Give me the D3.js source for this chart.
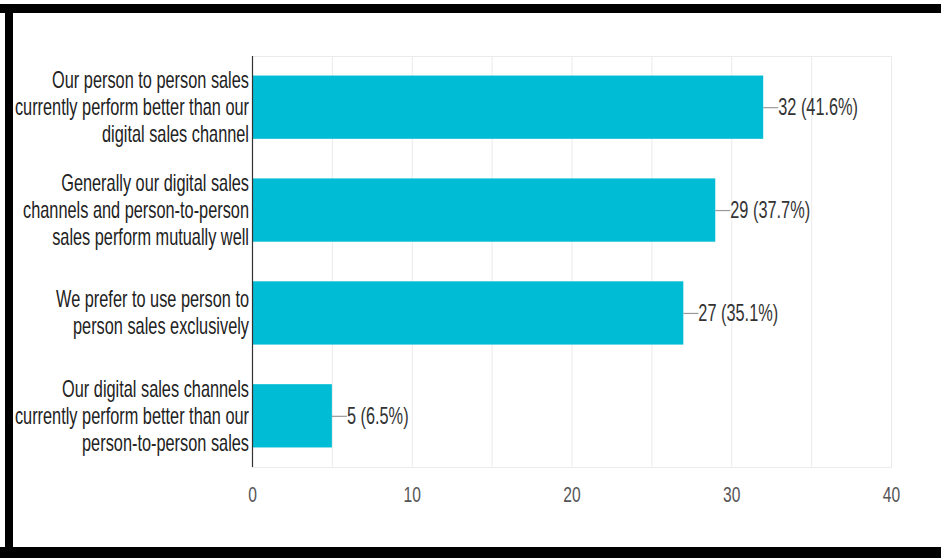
<!DOCTYPE html>
<html>
<head>
<meta charset="utf-8">
<script src="https://cdn.jsdelivr.net/npm/d3@7"></script>
<style>
  html, body { margin: 0; padding: 0; background: #fff; }
  svg { display: block; }
  text { font-family: Arial, "Liberation Sans", sans-serif; }
</style>
</head>
<body>
<svg id="chart" width="941" height="558"></svg>
<script>
// ---- data ----
const categories = [
  ["Our person to person sales", "currently perform better than our", "digital sales channel"],
  ["Generally our digital sales", "channels and person-to-person", "sales perform mutually well"],
  ["We prefer to use person to", "person sales exclusively"],
  ["Our digital sales channels", "currently perform better than our", "person-to-person sales"]
];
const counts = [32, 29, 27, 5];
const percents = ["41.6%", "37.7%", "35.1%", "6.5%"];
const tickLabels = [0, 10, 20, 30, 40];
const gridValues = [0, 5, 10, 15, 20, 25, 30, 35, 40];

// ---- layout ----
const W = 941, H = 558;
const plot = { left: 252, right: 891, top: 56, bottom: 467 };
const sx = 0.71;     // horizontal squeeze of the text
const fs = 23;

const svg = d3.select("#chart");

// frame
svg.append("rect").attr("x", 0).attr("y", 0).attr("width", W).attr("height", H).attr("fill", "#fff");
svg.append("rect").attr("x", 0).attr("y", 4).attr("width", W).attr("height", 9).attr("fill", "#000");
svg.append("rect").attr("x", 5).attr("y", 4).attr("width", 8).attr("height", H).attr("fill", "#000");
svg.append("rect").attr("x", 0).attr("y", 547).attr("width", W).attr("height", H - 547).attr("fill", "#000");

const x = d3.scaleLinear().domain([0, 40]).range([plot.left, plot.right]);
const y = d3.scaleBand().domain(d3.range(categories.length))
  .range([plot.top, plot.bottom]).paddingInner(0.385).paddingOuter(0.19);

// gridlines
const grid = svg.append("g").attr("transform", `translate(0,${plot.bottom})`)
  .call(d3.axisBottom(x).tickValues(gridValues).tickSize(-(plot.bottom - plot.top)).tickFormat(""));
grid.select(".domain").remove();
grid.selectAll("line").attr("stroke", "#ebebeb").attr("stroke-width", 1);
[plot.top, plot.bottom].forEach(yy => {
  svg.append("line").attr("x1", plot.left).attr("x2", plot.right + 0.5)
    .attr("y1", yy + 0.5).attr("y2", yy + 0.5).attr("stroke", "#ebebeb");
});

// bars
svg.append("g").selectAll("rect").data(counts).join("rect")
  .attr("x", x(0))
  .attr("y", (d, i) => y(i))
  .attr("width", d => x(d) - x(0))
  .attr("height", y.bandwidth())
  .attr("fill", "#00bcd4");

// axis line
svg.append("line").attr("x1", x(0) + 0.5).attr("x2", x(0) + 0.5)
  .attr("y1", plot.top).attr("y2", plot.bottom).attr("stroke", "#333").attr("stroke-width", 1.2);

// value labels with leader line
const vl = svg.append("g").selectAll("g").data(counts).join("g")
  .attr("transform", (d, i) => `translate(${x(d)},${y(i) + y.bandwidth() / 2})`);
vl.append("line").attr("x1", 0).attr("x2", 15).attr("y1", 0.5).attr("y2", 0.5)
  .attr("stroke", "#999").attr("stroke-width", 1.2);
vl.append("text")
  .attr("transform", `translate(15,8) scale(${sx},1)`)
  .attr("font-size", fs).attr("fill", "#333")
  .text((d, i) => `${d} (${percents[i]})`);

// category labels
const lh = 27;
const cl = svg.append("g").selectAll("g").data(categories).join("g")
  .attr("transform", (d, i) => `translate(${plot.left - 3},${y(i) + y.bandwidth() / 2})`);
cl.each(function (lines) {
  const g = d3.select(this);
  const n = lines.length;
  lines.forEach((t, j) => {
    const off = (j - (n - 1) / 2) * lh + 8;
    g.append("text")
      .attr("transform", `translate(0,${off}) scale(${sx},1)`)
      .attr("text-anchor", "end")
      .attr("font-size", fs).attr("fill", "#222")
      .text(t);
  });
});

// x axis tick labels
const ax = svg.append("g").attr("transform", `translate(0,${plot.bottom})`)
  .call(d3.axisBottom(x).tickValues(tickLabels).tickSize(0).tickPadding(0));
ax.select(".domain").remove();
ax.selectAll("text")
  .attr("y", 0).attr("dy", 0)
  .attr("transform", `translate(0,35) scale(${sx},1)`)
  .attr("font-size", 22).attr("font-family", "Arial, 'Liberation Sans', sans-serif")
  .attr("fill", "#555");
</script>
</body>
</html>
